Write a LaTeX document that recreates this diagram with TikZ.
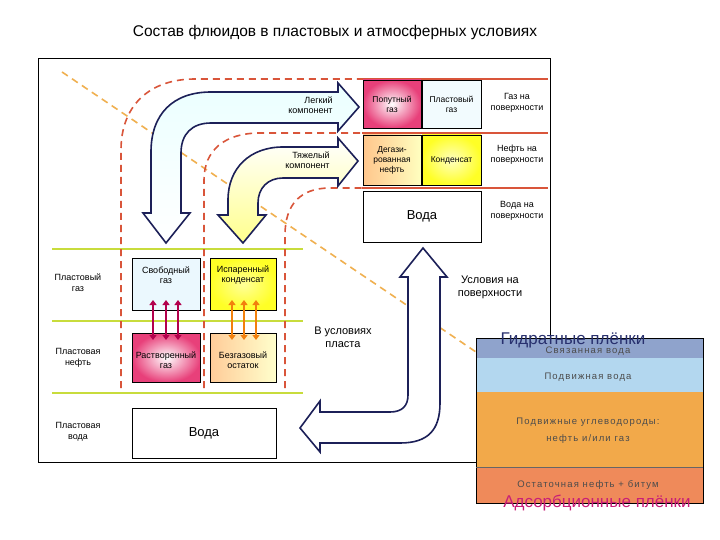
\documentclass[tikz,border=0pt]{standalone}
\usepackage{fontspec}
\setmainfont{Liberation Sans}
\usetikzlibrary{arrows.meta}
\definecolor{rd}{HTML}{D9553A}
\definecolor{og}{HTML}{F0B050}
\definecolor{gr}{HTML}{C8DC3C}
\definecolor{nv}{HTML}{1C2058}
\definecolor{bA}{HTML}{8FA3CC}
\definecolor{bB}{HTML}{B3D7EF}
\definecolor{bC}{HTML}{F2A94A}
\definecolor{bD}{HTML}{EF8A5A}
\definecolor{hpc}{HTML}{28306E}
\definecolor{apc}{HTML}{C81E78}
\definecolor{pk}{HTML}{E8407A}
\tikzset{
  box/.style={draw=black,line width=0.8pt,align=center,font=\fontsize{8.5}{10}\selectfont,inner sep=1pt},
  lbl/.style={align=center,font=\fontsize{9}{11}\selectfont},
  sl/.style={align=center,font=\fontsize{9}{10.5}\selectfont},
  rdash/.style={draw=rd,line width=1.6pt,dash pattern=on 7pt off 5pt},
  odash/.style={draw=og,line width=1.6pt,dash pattern=on 7pt off 5pt},
  bigarrow/.style={draw=nv,line width=1.6pt,line join=miter},
  dbl/.style={{Triangle[length=5pt,width=7pt]}-{Triangle[length=5pt,width=7pt]},line width=2.5pt},
  band/.style={font=\fontsize{9.5}{11}\selectfont\addfontfeature{LetterSpace=12},text=black!70,align=center}
}
\begin{document}
\begin{tikzpicture}[x=1pt,y=-1pt]
\useasboundingbox (0,0) rectangle (720,540);
\fill[white] (0,0) rectangle (720,540);
\node[font=\fontsize{15.5}{18}\selectfont] (title) at (335,32) {Состав флюидов в пластовых и атмосферных условиях};
\draw[line width=0.8pt] (38,58) rectangle (550,462);
% green lines
\foreach \y in {249,321,393} \draw[gr,line width=2pt] (52,\y) -- (303,\y);
% orange diagonal
\draw[odash] (62,72) -- (476,352);
% red dashed curves
\draw[rdash] (121,388) -- (121,150) .. controls (121,105) and (150,79) .. (195,79) -- (362,79);
\draw[rdash] (204,388) -- (204,180) .. controls (204,150) and (225,133) .. (260,133) -- (362,133);
\draw[rdash] (285,388) -- (285,235) .. controls (285,205) and (300,188) .. (330,188) -- (362,188);
\foreach \y in {79,133,188} \draw[rd,line width=2pt] (362,\y) -- (548,\y);
% big arrows
\draw[bigarrow,top color=cyan!8,bottom color=white] (338,92)--(338,83)--(359,107)--(338,131)--(338,123)--(211,123) .. controls (192,123) and (181,134) .. (181,153) --(181,213)--(190,213)--(166,243)--(143,213)--(151,213)--(151,152) .. controls (151,114) and (173,92) .. (211,92) -- cycle;
\draw[bigarrow,top color=white,bottom color=yellow!45] (338,147)--(338,138)--(358,161)--(338,186)--(338,178)--(283,178) .. controls (268,178) and (258,188) .. (258,203)--(258,215)--(266,215)--(243,243)--(218,215)--(228,215)--(228,200) .. controls (228,168) and (250,147) .. (283,147) -- cycle;
\draw[bigarrow,fill=white] (408,277)--(400,277)--(423,248)--(447,277)--(440,277)--(440,403) .. controls (440,430) and (428,443) .. (400,443) -- (320,443)--(320,452)--(300,428)--(320,401)--(320,412)--(390,412) .. controls (402,412) and (408,406) .. (408,395) -- cycle;
\node[sl,align=right] (lk) at (306,105) {Легкий\\\hspace*{1em}компонент};
\node[sl,align=right] (tk) at (303,160) {Тяжелый\\\hspace*{1em}компонент};
% top right boxes
\node[box,minimum width=58pt,minimum height=48pt,inner color=white,outer color=pk] (pg) at (392,104) {Попутный\\газ};
\node[box,minimum width=59pt,minimum height=48pt,fill=cyan!5] (plg) at (451.5,104) {Пластовый\\газ};
\node[box,minimum width=58pt,minimum height=50pt,left color=orange!45,right color=yellow!25] (dn) at (392,160) {Дегази-\\рованная\\нефть};
\node[box,minimum width=59pt,minimum height=50pt,inner color=yellow!25,outer color=yellow!85] (kd) at (451.5,160) {Конденсат};
\node[box,minimum width=118pt,minimum height=51pt,fill=white,font=\fontsize{13}{15}\selectfont] (vt) at (422,216.5) {Вода};
\node[lbl] (r1) at (517,103) {Газ на\\поверхности};
\node[lbl] (r2) at (517,155) {Нефть на\\поверхности};
\node[lbl] (r3) at (517,211) {Вода на\\поверхности};
\node[lbl,font=\fontsize{11}{13}\selectfont] (us) at (490,287) {Условия на\\поверхности};
\node[lbl,font=\fontsize{11}{13}\selectfont] (vu) at (343,337) {В условиях\\пласта};
% bottom left boxes
\node[box,minimum width=68pt,minimum height=52pt,fill=cyan!8,anchor=north west] (sg) at (132,258) {};
\node[sl] (sgt) at (166,275) {Свободный\\газ};
\node[box,minimum width=66pt,minimum height=52pt,inner color=yellow!40,outer color=yellow!85,anchor=north west] (ik) at (210,258) {};
\node[sl] (ikt) at (243,275) {Испаренный\\конденсат};
\node[box,minimum width=68pt,minimum height=49pt,inner color=white,outer color=pk,anchor=north west] (rg) at (132,333) {};
\node[sl] (rgt) at (166,360) {Растворенный\\газ};
\node[box,minimum width=66pt,minimum height=49pt,left color=orange!40,right color=yellow!20,anchor=north west] (bo) at (210,333) {};
\node[sl] (bot) at (243,360) {Безгазовый\\остаток};
\node[box,minimum width=144pt,minimum height=50pt,fill=white,font=\fontsize{13}{15}\selectfont] (vb) at (204,433) {Вода};
\foreach \x in {153,166,178} \draw[dbl,color=violet!60!red] (\x,300) -- (\x,340);
\foreach \x in {232,244,256} \draw[dbl,color=orange!80!brown] (\x,300) -- (\x,340);
\node[lbl] (l1) at (78,283) {Пластовый\\газ};
\node[lbl] (l2) at (78,358) {Пластовая\\нефть};
\node[lbl] (l3) at (78,432) {Пластовая\\вода};
% inset
\fill[bA] (476,338) rectangle (703,358);
\fill[bB] (476,358) rectangle (703,392);
\fill[bC] (476,392) rectangle (703,467);
\fill[bD] (476,467) rectangle (703,503);
\draw[line width=0.8pt] (476,338) rectangle (703,503);
\draw[black!60,line width=0.4pt] (476,467) -- (703,467);
\node[band] (b1) at (588,351) {Связанная вода};
\node[band] (b2) at (588,377) {Подвижная вода};
\node[band] (b3) at (588,431) {Подвижные углеводороды:\\[6pt]нефть и/или газ};
\node[band] (b4) at (588,485) {Остаточная нефть + битум};
\node[font=\fontsize{17}{20}\selectfont,text=hpc] (hp) at (573,340) {Гидратные плёнки};
\node[font=\fontsize{17}{20}\selectfont,text=apc] (ap) at (597,503) {Адсорбционные плёнки};
\end{tikzpicture}
\end{document}
